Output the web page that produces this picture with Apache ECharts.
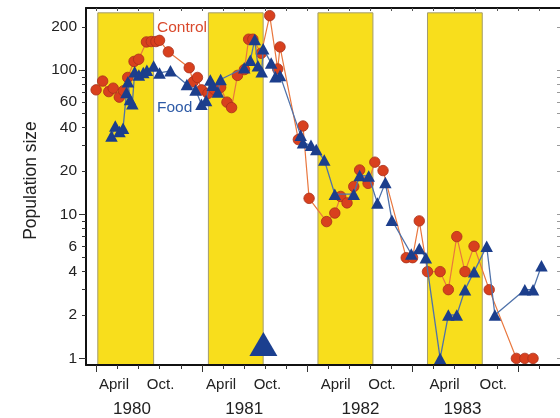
<!DOCTYPE html>
<html><head><meta charset="utf-8">
<script src="https://cdn.jsdelivr.net/npm/echarts@6/dist/echarts.min.js"></script>
<style>html,body{margin:0;padding:0;background:#fff}#c{width:560px;height:418px}</style>
</head><body><div id="c"></div>
<script>
// ---- data (x in weeks, 0 = first tick of 1980) ----
const controlWeeks = [-0.2,2.9,5.8,7.9,10.8,12.8,14.8,17.8,20.0,23.7,26.0,28.2,29.9,34.1,44.0,45.9,47.9,49.9,52.9,55.9,58.9,61.9,64.1,66.9,70.2,72.2,74.2,78.2,82.2,86.0,87.1,95.8,98.0,100.9,109.2,113.1,115.9,118.9,122.1,124.9,128.9,132.1,136.0,147.0,150.0,153.2,157.1,163.1,167.0,171.0,174.9,179.2,186.4,199.3,203.3,207.2];
const controlValues = [73,84,71,75,65,72,89,115,119,157,158,158,161,134,104,83,89,73,69,73.5,76,60,55,92,101,164,164,131,239,102,145,33,41,12.9,8.9,10.2,13.3,12,15.6,20.3,16.4,23,20.1,5,5,9,4,4,3,7,4,6,3,1,1,1];
const foodWeeks = [7.1,8.9,10.9,12.6,14.2,14.9,15.9,17.0,18.1,20.1,22.2,23.9,27.1,29.9,35.1,42.9,47.0,49.8,52.0,54.0,55.1,57.6,58.9,70.1,73.0,75.1,76.6,78.4,79.1,82.9,84.9,87.1,96.9,98.0,101.8,104.3,108.1,113.1,122.1,124.9,129.2,133.3,137.1,140.2,149.4,153.2,156.3,163.1,167.0,171.0,174.9,179.2,185.2,189.1,203.3,207.2,211.2];
const foodValues = [35,41,37.6,39.6,70,83,62.6,58.5,97.5,92.6,96.4,100,107,95.6,99,79.6,72.9,58,61.7,85.5,78.7,70.6,86.2,104,117,163,107.5,97.6,141,112,90,92,35.3,31.4,30.1,28.2,23.8,13.8,13.8,18.6,18.4,12,16.6,9.1,5.3,5.8,5,1,2,2,3,4,6,2,3,3,4.4];
const bigMarker = [[79.2, 1.26]];
const seasonPeriods = [[0.6,27.1],[53.1,79.1],[105.1,131.2],[157.1,183.1]];
const seasonTop = 250;

const xTicks = [0,10,20,30,40,50,60,70,80,90,100,110,120,130,140,150,160,170,180,190,200,210,220];
const xMajorTicks = [0,50,100,150,200];
const monthLabelWeeks = [8.3,30.4,59.1,81.1,113.5,135.5,165.2,188.3];
const monthLabelTexts = ['April','Oct.','April','Oct.','April','Oct.','April','Oct.'];
const yearLabelWeeks = [16.8,70.1,125.3,173.7];
const yearLabelTexts = ['1980','1981','1982','1983'];
const yTicks = [1,2,3,4,5,6,7,8,9,10,20,30,40,50,60,70,80,90,100,200];
const yMajorTicks = [1,10,100];
const yLabels = [1,2,4,6,10,20,40,60,100,200];

const FONT = 'Liberation Sans, Arial, sans-serif';
const zip = (a, b) => a.map((v, i) => [v, b[i]]);
const lookup = (vals, texts) => (v) => {
  let best = 0;
  vals.forEach((x, i) => { if (Math.abs(x - v) < Math.abs(vals[best] - v)) best = i; });
  return texts[best];
};

const chart = echarts.init(document.getElementById('c'), null, {renderer: 'canvas'});
const XMIN = -5, XMAX = 220, YMIN = 0.9, YMAX = 270;
chart.setOption({
  animation: false,
  backgroundColor: '#ffffff',
  grid: {left: 86, top: 8, right: -2, bottom: 52, containLabel: false},
  xAxis: [
    {type: 'value', min: XMIN, max: XMAX, position: 'bottom', z: 10,
     axisLine: {show: true, onZero: false, lineStyle: {color: '#111', width: 2}},
     axisTick: {show: true, customValues: xTicks, length: 4, lineStyle: {color: '#333', width: 1}},
     axisLabel: {customValues: monthLabelWeeks, formatter: lookup(monthLabelWeeks, monthLabelTexts),
       margin: 12, fontSize: 15, color: '#222', fontFamily: FONT},
     splitLine: {show: false}},
    {type: 'value', min: XMIN, max: XMAX, position: 'bottom', z: 10,
     axisLine: {show: false, onZero: false},
     axisTick: {show: true, customValues: xMajorTicks, length: 7, lineStyle: {color: '#333', width: 1}},
     axisLabel: {customValues: yearLabelWeeks, formatter: lookup(yearLabelWeeks, yearLabelTexts),
       margin: 36, fontSize: 17, color: '#222', fontFamily: FONT},
     splitLine: {show: false}},
    {type: 'value', min: XMIN, max: XMAX, position: 'top', z: 10,
     axisLine: {show: true, onZero: false, lineStyle: {color: '#111', width: 2}},
     axisTick: {show: true, inside: true, customValues: xTicks, length: 3, lineStyle: {color: '#555', width: 1}},
     axisLabel: {show: false}, splitLine: {show: false}}
  ],
  yAxis: [
    {type: 'log', logBase: 10, min: YMIN, max: YMAX, position: 'left', z: 10,
     axisLine: {show: true, onZero: false, lineStyle: {color: '#111', width: 2}},
     axisTick: {show: true, customValues: yTicks, length: 4, lineStyle: {color: '#333', width: 1}},
     axisLabel: {customValues: yLabels, margin: 9, fontSize: 15.5, color: '#222', fontFamily: FONT},
     splitLine: {show: false}, minorTick: {show: false},
     name: 'Population size', nameLocation: 'middle', nameGap: 44,
     nameTextStyle: {fontSize: 17.5, color: '#222', fontFamily: FONT, padding: [0, 0, 0, 12]}},
    {type: 'log', logBase: 10, min: YMIN, max: YMAX, position: 'left', z: 10,
     axisLine: {show: false, onZero: false},
     axisTick: {show: true, customValues: yMajorTicks, length: 7, lineStyle: {color: '#333', width: 1}},
     axisLabel: {show: false}, splitLine: {show: false}},
    {type: 'log', logBase: 10, min: YMIN, max: YMAX, position: 'right', z: 10,
     axisLine: {show: true, onZero: false, lineStyle: {color: '#888', width: 1}},
     axisTick: {show: true, inside: true, customValues: yTicks, length: 3, lineStyle: {color: '#999', width: 1}},
     axisLabel: {show: false}, splitLine: {show: false}}
  ],
  series: [
    {type: 'line', name: 'seasons', data: [], silent: true, z: 1,
     markArea: {silent: true,
       itemStyle: {color: '#f8de1c', borderColor: '#a39c6e', borderWidth: 1},
       data: seasonPeriods.map(p => [{xAxis: p[0], yAxis: YMIN}, {xAxis: p[1], yAxis: seasonTop}])}},
    {type: 'line', name: 'Control', data: zip(controlWeeks, controlValues), z: 3,
     symbol: 'circle', symbolSize: 10.5, showAllSymbol: true,
     itemStyle: {color: '#d8401e', borderColor: '#a8301a', borderWidth: 0.8},
     lineStyle: {color: '#e9773e', width: 1.2}},
    {type: 'line', name: 'Food', data: zip(foodWeeks, foodValues), z: 4,
     symbol: 'triangle', symbolSize: [12.5, 11.5], showAllSymbol: true,
     itemStyle: {color: '#1c3e8c'},
     lineStyle: {color: '#4f72aa', width: 1.3}},
    {type: 'scatter', name: 'marker', data: bigMarker, z: 5,
     symbol: 'triangle', symbolSize: [28, 24], itemStyle: {color: '#1b3f8f', opacity: 1}}
  ],
  graphic: [
    {type: 'text', left: 157, top: 20, z: 20, style: {text: 'Control', fill: '#d9482b', font: '15.5px ' + FONT}},
    {type: 'text', left: 157, top: 100, z: 20, style: {text: 'Food', fill: '#2d5aa6', font: '15.5px ' + FONT}}
  ]
});
</script></body></html>
